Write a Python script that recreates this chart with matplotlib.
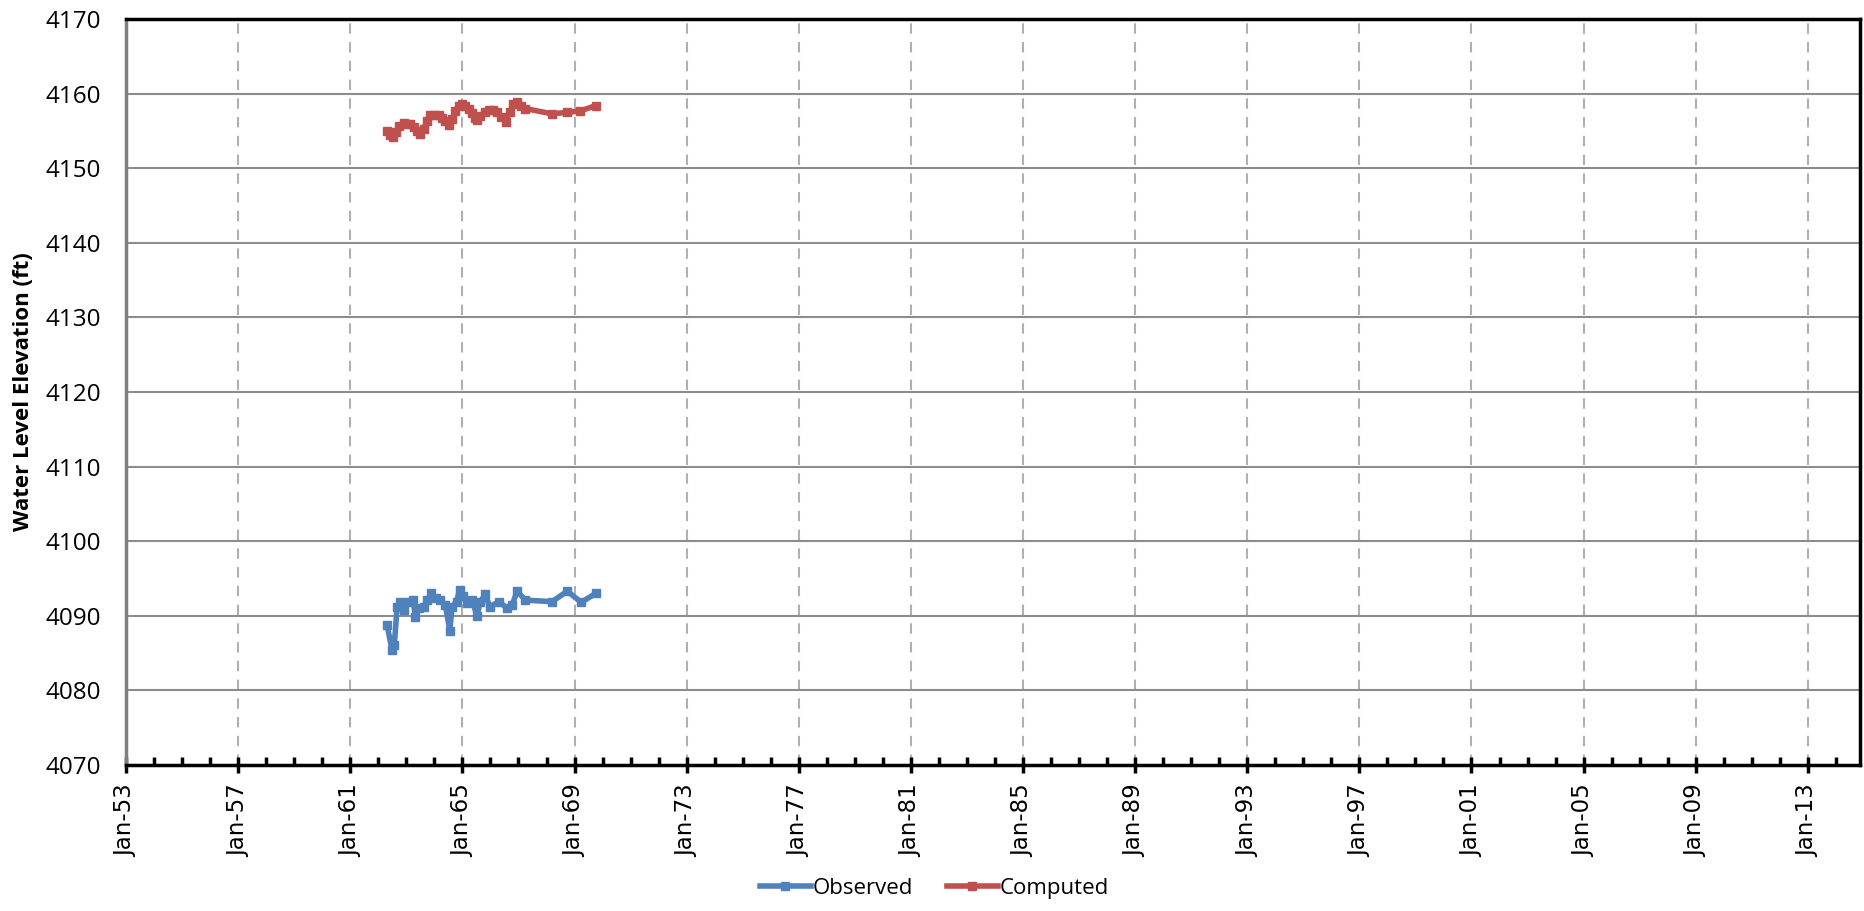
import matplotlib.pyplot as plt
from matplotlib.ticker import FixedLocator, MultipleLocator, FuncFormatter

# decimal years
obs_years = [1962.31, 1962.49, 1962.57, 1962.67, 1962.79, 1962.90, 1963.02, 1963.24,
             1963.32, 1963.44, 1963.62, 1963.74, 1963.89, 1964.04, 1964.21, 1964.39,
             1964.55, 1964.63, 1964.79, 1964.90, 1965.02, 1965.17, 1965.34, 1965.52,
             1965.64, 1965.82, 1965.97, 1966.30, 1966.60, 1966.78, 1966.95, 1967.25,
             1968.20, 1968.74, 1969.24, 1969.75]
obs_elev = [4088.8, 4085.4, 4086.1, 4091.2, 4091.9, 4090.8, 4091.9, 4092.1,
            4089.9, 4091.0, 4091.2, 4092.1, 4093.0, 4092.4, 4092.1, 4091.5,
            4088.0, 4091.2, 4091.9, 4093.5, 4092.6, 4091.7, 4092.1, 4090.0,
            4091.9, 4092.9, 4091.2, 4091.9, 4091.0, 4091.5, 4093.3, 4092.1,
            4091.9, 4093.3, 4091.8, 4093.0]

comp_years = [1962.31, 1962.42, 1962.52, 1962.63, 1962.75, 1962.90, 1963.02, 1963.14,
              1963.27, 1963.39, 1963.50, 1963.62, 1963.74, 1963.86, 1963.98, 1964.15,
              1964.27, 1964.39, 1964.51, 1964.63, 1964.75, 1964.87, 1964.98, 1965.10,
              1965.22, 1965.34, 1965.45, 1965.52, 1965.64, 1965.79, 1965.94, 1966.09,
              1966.24, 1966.39, 1966.54, 1966.70, 1966.82, 1966.95, 1967.10, 1967.25,
              1968.20, 1968.74, 1969.21, 1969.75]
comp_elev = [4155.0, 4154.5, 4154.2, 4154.8, 4155.7, 4156.1, 4156.0, 4155.9,
             4155.5, 4155.0, 4154.6, 4155.3, 4156.4, 4157.1, 4157.2, 4157.1,
             4156.8, 4156.3, 4155.8, 4156.6, 4157.7, 4158.4, 4158.6, 4158.4,
             4158.0, 4157.4, 4156.8, 4156.5, 4157.0, 4157.6, 4157.8, 4157.8,
             4157.5, 4156.9, 4156.2, 4157.6, 4158.6, 4158.9, 4158.4, 4158.0,
             4157.3, 4157.5, 4157.7, 4158.4]

plt.rcParams['font.family'] = ['Open Sans', 'DejaVu Sans']

fig = plt.figure(figsize=(18.65, 9.11), dpi=100)
ax = fig.add_axes([0.0676, 0.1603, 0.9297, 0.8187])

ax.plot(obs_years, obs_elev, color='#4F81BD', lw=4, marker='s', ms=6, label='Observed')
ax.plot(comp_years, comp_elev, color='#C0504D', lw=4, marker='s', ms=6, label='Computed')

ax.set_xlim(1953, 2014.86)
ax.set_ylim(4070, 4170)
ax.yaxis.set_major_locator(MultipleLocator(10))
ax.xaxis.set_major_locator(FixedLocator(list(range(1953, 2014, 4))))
ax.xaxis.set_minor_locator(MultipleLocator(1))
ax.xaxis.set_major_formatter(FuncFormatter(lambda v, p: 'Jan-%02d' % (int(round(v)) % 100)))

ax.grid(axis='y', color='#8c8c8c', lw=1.5)
ax.grid(axis='x', color='#b0b0b0', lw=1.5, ls=(0, (5, 4)))
ax.set_axisbelow(True)

ax.tick_params(axis='x', which='major', direction='inout', length=12, width=2.5,
               labelsize=16.5, labelrotation=90, pad=8)
ax.tick_params(axis='x', which='minor', direction='in', length=6, width=2.5)
ax.tick_params(axis='y', length=0, labelsize=17.5, pad=18)
for lab in ax.get_xticklabels():
    lab.set_fontfamily('DejaVu Sans')

for s in ['top', 'bottom', 'right']:
    ax.spines[s].set_linewidth(2.5)
    ax.spines[s].set_color('black')
ax.spines['left'].set_linewidth(2.5)
ax.spines['left'].set_color('#7f7f7f')

ax.set_ylabel('Water Level Elevation (ft)', fontsize=16, fontweight='bold', labelpad=8)

fig.legend(loc='center', bbox_to_anchor=(0.501, 0.025), ncol=2, frameon=False,
           fontsize=16, handlelength=2.3, columnspacing=1.5, handletextpad=0.1)

fig.savefig('out.png', dpi=100)
